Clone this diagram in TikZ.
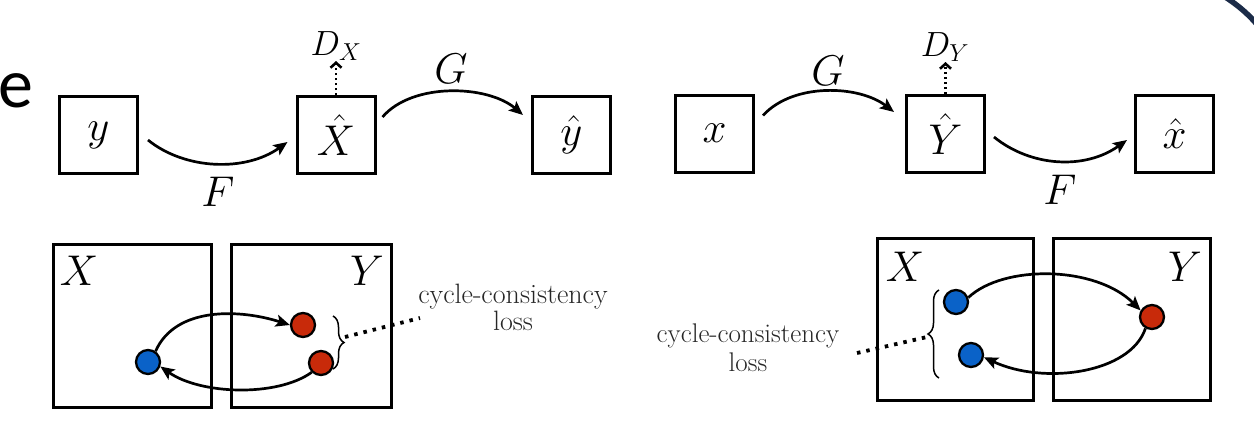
\RequirePackage{fix-cm}
\documentclass[tikz,border=0pt]{standalone}
\usepackage{fontspec}
\newfontfamily\carlito{Carlito}
\usetikzlibrary{arrows.meta,decorations.pathreplacing}
\definecolor{dotblue}{HTML}{0A62C8}
\definecolor{dotred}{HTML}{C82A0A}
\definecolor{navyarc}{HTML}{1B2B48}
\begin{document}
\begin{tikzpicture}[x=1pt,y=-1pt,
  box/.style={draw, line width=3pt, minimum width=78pt, minimum height=77pt, inner sep=0pt, font=\fontsize{43}{43}\selectfont},
  panel/.style={draw, line width=2.8pt, inner sep=0pt},
  lbl/.style={inner sep=0pt, font=\fontsize{43}{43}\selectfont},
  dlbl/.style={inner sep=0pt, font=\fontsize{35}{35}\selectfont},
  arr/.style={line width=2.7pt, -{Stealth[length=14pt,width=12pt,inset=3pt]}},
  darr/.style={line width=2.8pt, dash pattern=on 2.5pt off 2.5pt, -{Straight Barb[length=5pt,width=11pt,line width=2.6pt]}},
  dotnode/.style={circle, draw, line width=2.3pt, minimum size=24pt, inner sep=0pt},
  brc/.style={decorate, decoration={brace, amplitude=11pt}, line width=1.5pt},
  dotl/.style={line width=3.8pt, dash pattern=on 3.5pt off 6pt},
  txt/.style={inner sep=0pt, align=center, text=black!85}
]
\useasboundingbox (0,0) rectangle (1254,440);
% slide remnants
\node[anchor=base west, inner sep=0pt, font=\carlito\fontsize{70}{70}\selectfont] (slidee) at (-2,107) {e};
\draw[navyarc, line width=5.5pt] (1222,-5) .. controls (1235,3) and (1248,13) .. (1260,28);

% top row
\node[box] (yb) at (98.5,135) {$y$};
\node[box] (Xh) at (336,135) {$\hat{X}$};
\node[box] (yh) at (571.5,135) {$\hat{y}$};
\node[box] (xb) at (714.5,133.5) {$x$};
\node[box] (Yh) at (945.5,134) {$\hat{Y}$};
\node[box] (xh) at (1174.5,134) {$\hat{x}$};

\node[dlbl, anchor=south] (DX) at (336,61) {$D_X$};
\node[dlbl, anchor=south] (DY) at (945,62) {$D_Y$};
\draw[darr] (Xh.north) -- (Xh.north |- DX.south);
\draw[darr] (Yh.north) -- (Yh.north |- DY.south);

\draw[arr] ([shift={(9,5)}]yb.east) .. controls +(37,30) and +(-42,30) .. ([shift={(-8,7)}]Xh.west);
\node[lbl] (F1) at (218,192) {$F$};
\draw[arr] ([shift={(6,-18)}]Xh.east) .. controls +(30,-35) and +(-35,-30) .. ([shift={(-8,-20)}]yh.west);
\node[lbl] (G1) at (451,69) {$G$};
\draw[arr] ([shift={(8,-18)}]xb.east) .. controls +(30,-33) and +(-35,-27) .. ([shift={(-11,-22)}]Yh.west);
\node[lbl] (G2) at (828,71) {$G$};
\draw[arr] ([shift={(8,3)}]Yh.east) .. controls +(37,30) and +(-42,30) .. ([shift={(-7,6)}]xh.west);
\node[lbl] (F2) at (1060,190) {$F$};

% bottom left panel
\node[panel, minimum width=158pt, minimum height=163pt] (LX) at (132.5,326) {};
\node[panel, minimum width=160pt, minimum height=163pt] (LY) at (311.5,326) {};
\node[lbl] (LXl) at (79,271) {$X$};
\node[lbl] (LYl) at (367,271) {$Y$};
\node[dotnode, fill=dotblue] (lb) at (148,362) {};
\node[dotnode, fill=dotred] (lr1) at (303,325) {};
\node[dotnode, fill=dotred] (lr2) at (321,363) {};
\draw[arr] (lb.55) .. controls +(20,-45) and +(-50,-16) .. (lr1.west);
\draw[arr] (lr2.225) .. controls +(-35,25) and +(40,28) .. (lb.-20);
\draw[brc] (333,316) -- (333,369);
\coordinate (lbt) at (345,337);
\coordinate (lde) at (420,318);
\draw[dotl] (lbt) -- (lde);
\node[txt, font=\fontsize{28}{27}\selectfont] (cl) at (513,307) {cycle-consistency\\loss};

% bottom right panel
\node[panel, minimum width=156pt, minimum height=162pt] (RX) at (955.5,319.5) {};
\node[panel, minimum width=157pt, minimum height=162pt] (RY) at (1132,319.5) {};
\node[lbl] (RXl) at (905,267) {$X$};
\node[lbl] (RYl) at (1185,267) {$Y$};
\node[dotnode, fill=dotblue] (rb1) at (956,302) {};
\node[dotnode, fill=dotblue] (rb2) at (971,355) {};
\node[dotnode, fill=dotred] (rr) at (1152,317) {};
\draw[arr] (rb1.20) .. controls +(35,-33) and +(-45,-45) .. (rr.150);
\draw[arr] (rr.240) .. controls +(-15,45) and +(60,28) .. (rb2.-10);
\draw[brc] (939,378) -- (939,290);
\coordinate (rbt) at (927,337);
\coordinate (rde) at (857,353);
\draw[dotl] (rde) -- (rbt);
\node[txt, font=\fontsize{27}{29}\selectfont] (cr) at (748,348) {cycle-consistency\\loss};
\end{tikzpicture}
\end{document}
